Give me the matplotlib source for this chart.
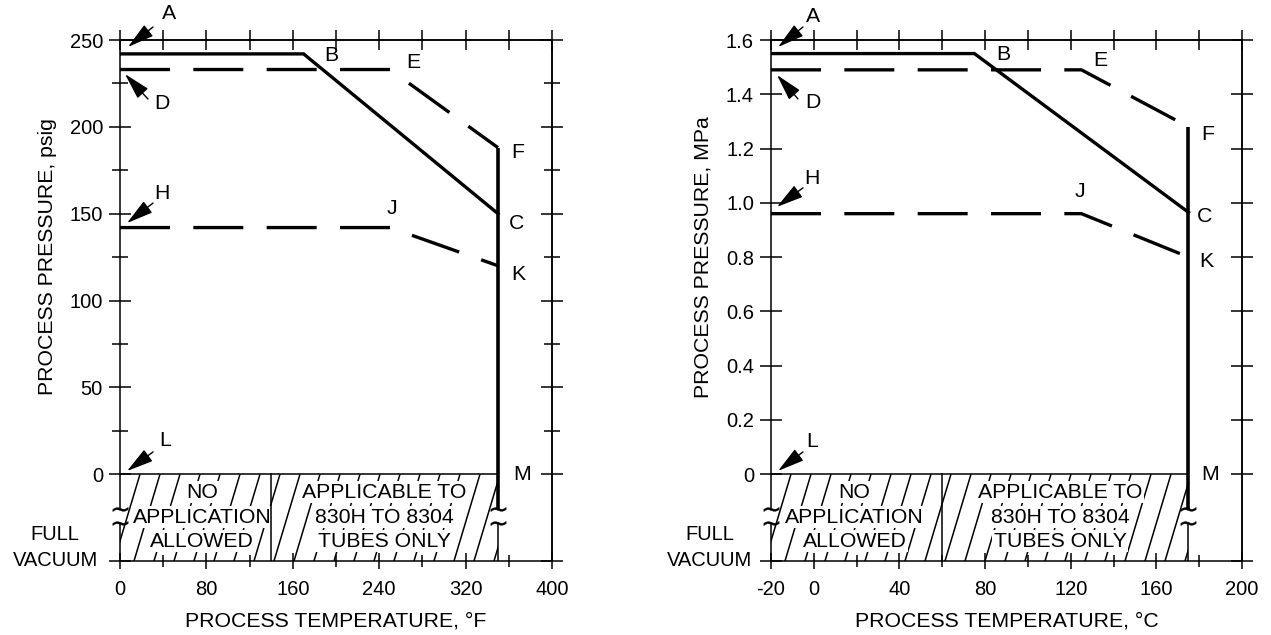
import numpy as np
import matplotlib.pyplot as plt
import matplotlib.transforms as mtransforms
from matplotlib.collections import LineCollection
from matplotlib.patches import Rectangle

plt.rcParams['font.family'] = ['Liberation Sans', 'DejaVu Sans']
plt.rcParams['font.size'] = 15.3
plt.rcParams['xtick.labelsize'] = 14.5
plt.rcParams['ytick.labelsize'] = 14.5
plt.rcParams['axes.linewidth'] = 1.1

# ---- chart 1: deg F / psig ----
f_abc_x = [0, 170, 350]
f_abc_y = [242, 242, 150]
f_def_x = [0, 250, 350]
f_def_y = [233, 233, 188]
f_hjk_x = [0, 250, 350]
f_hjk_y = [142, 142, 120]
f_xticks = [0, 80, 160, 240, 320, 400]
f_yticks = [0, 50, 100, 150, 200, 250]
f_vacuum = -50
f_divide = 140

# ---- chart 2: deg C / MPa ----
c_abc_x = [-20, 75, 175]
c_abc_y = [1.55, 1.55, 0.965]
c_def_x = [-20, 125, 175]
c_def_y = [1.49, 1.49, 1.28]
c_hjk_x = [-20, 125, 175]
c_hjk_y = [0.96, 0.96, 0.80]
c_xticks = [-20, 0, 40, 80, 120, 160, 200]
c_yticks = [0, 0.2, 0.4, 0.6, 0.8, 1.0, 1.2, 1.4, 1.6]
c_vacuum = -0.32
c_divide = 60

LW = 2.4
DASH = (15, 7)
TW = 1.1

fig = plt.figure(figsize=(12.71, 6.35), dpi=100)
axL = fig.add_axes([120/1271, 1-561/635, 432/1271, 521/635])
axR = fig.add_axes([771/1271, 1-561/635, 471/1271, 521/635])


def hatch(ax, x0, x1, y0, y1, step_px=20, slant_px=26):
    w_px = ax.get_position().width * fig.get_figwidth() * fig.dpi
    lo, hi = ax.get_xlim()
    upp = (hi - lo) / w_px
    step, slant = step_px * upp, slant_px * upp
    segs = [[(s, y0), (s + slant, y1)] for s in np.arange(x0 - slant, x1, step)]
    lc = LineCollection(segs, colors='k', linewidths=1.1, zorder=1)
    ax.add_collection(lc)
    lc.set_clip_path(Rectangle((x0, y0), x1 - x0, y1 - y0, transform=ax.transData))


def panel(ax, abc_x, abc_y, def_x, def_y, hjk_x, hjk_y, xlim, ylim, brk, divide, box_x):
    ax.set_xlim(xlim)
    ax.set_ylim(ylim)
    x0, tmax = xlim[0], def_x[-1]
    ax.plot(abc_x, abc_y, color='k', lw=LW, solid_joinstyle='miter', zorder=5)
    ax.plot(def_x, def_y, color='k', lw=LW, dashes=DASH, zorder=5)
    ax.plot(hjk_x, hjk_y, color='k', lw=LW, dashes=DASH, zorder=5)
    # temperature limit line with break
    ax.plot([tmax, tmax], [def_y[-1], brk[1]], color='k', lw=2.6,
            solid_capstyle='butt', zorder=5)
    ax.plot([tmax, tmax], [brk[0], ylim[0]], color='k', lw=TW, zorder=5)
    ax.spines['left'].set_bounds(brk[1], ylim[1])
    ax.plot([x0, x0], [ylim[0], brk[0]], color='k', lw=TW, clip_on=False, zorder=5)
    for xx in (x0, tmax):
        ax.plot([xx, xx], [brk[1], brk[0]], ls='none', marker='$\\sim$', ms=11,
                mew=0.3, color='k', clip_on=False, zorder=6)
    # vacuum region
    ax.plot([x0, tmax], [0, 0], color='k', lw=TW, zorder=4)
    ax.plot([divide, divide], [ylim[0], 0], color='k', lw=TW, zorder=4)
    hatch(ax, x0, tmax, ylim[0], 0)
    dy = (ylim[1] - ylim[0]) / 521
    box = dict(boxstyle='square,pad=0.08', fc='white', ec='none')
    rows = [-18, -43, -67]
    for bx, lines in zip(box_x, [['NO', 'APPLICATION', 'ALLOWED'],
                                  ['APPLICABLE TO', '830H TO 8304', 'TUBES ONLY']]):
        for r, t in zip(rows, lines):
            ax.text(bx, r * dy, t, ha='center', va='center', bbox=box, zorder=3)


panel(axL, f_abc_x, f_abc_y, f_def_x, f_def_y, f_hjk_x, f_hjk_y,
      (0, 400), (f_vacuum, 250), (-28, -20), f_divide, (76, 245))
panel(axR, c_abc_x, c_abc_y, c_def_x, c_def_y, c_hjk_x, c_hjk_y,
      (-20, 200), (c_vacuum, 1.6), (-0.18, -0.13), c_divide, (19, 115))


def ticks(ax, xmaj, xmin_, xtop, ymaj, ylabels, ymin_, yright, yright_minor):
    ax.set_xticks(xmaj, [str(v) for v in xmaj])
    ax.set_xticks(xmin_, minor=True)
    ax.set_yticks(ymaj, ylabels)
    ax.set_yticks(ymin_, minor=True)
    ax.tick_params(axis='x', which='major', direction='inout', length=11.5, width=TW, pad=8)
    ax.tick_params(axis='x', which='minor', direction='inout', length=8, width=TW)
    ax.tick_params(axis='y', which='major', direction='inout', length=16.5, width=TW, pad=4)
    ax.tick_params(axis='y', which='minor', direction='inout', length=11, width=TW)
    top = ax.secondary_xaxis('top')
    top.set_xticks(xtop)
    top.tick_params(direction='inout', length=15, width=TW, labeltop=False)
    right = ax.secondary_yaxis('right')
    right.set_yticks(yright)
    right.set_yticks(yright_minor, minor=True)
    right.tick_params(which='major', direction='inout', length=16, width=TW, labelright=False)
    right.tick_params(which='minor', direction='inout', length=11.5, width=TW, labelright=False)


ticks(axL, f_xticks, [40, 120, 200, 280, 360], np.arange(0, 401, 40),
      [f_vacuum] + f_yticks, [''] + [str(v) for v in f_yticks],
      [25, 75, 125, 175, 225], [f_vacuum] + f_yticks, [25, 75, 125, 175, 225])
ticks(axR, c_xticks, [20, 60, 100, 140, 180], np.arange(-20, 201, 20),
      [c_vacuum] + c_yticks, [''] + ['0' if v == 0 else f'{v:.1f}' for v in c_yticks],
      [], [c_vacuum] + c_yticks, [])

axL.set_xlabel('PROCESS TEMPERATURE, °F')
axR.set_xlabel('PROCESS TEMPERATURE, °C')
axL.set_ylabel('PROCESS PRESSURE, psig')
axR.set_ylabel('PROCESS PRESSURE, MPa')
axL.xaxis.set_label_coords(0.5, -0.096)
axR.xaxis.set_label_coords(0.5, -0.096)
axL.yaxis.set_label_coords(-0.146, 0.5835)
axR.yaxis.set_label_coords(-0.125, 0.5835)

# full vacuum labels
for ax, xf, full_y in ((axL, -0.150, -35), (axR, -0.1295, -0.224)):
    tr = mtransforms.blended_transform_factory(ax.transAxes, ax.transData)
    ax.text(xf, ax.get_ylim()[0], 'VACUUM', transform=tr, ha='center', va='center', fontsize=14.5)
    ax.text(xf, full_y, 'FULL', transform=tr, ha='center', va='center', fontsize=14.5)

# point letters
f_letters = {'B': (196, 241), 'E': (272, 237), 'F': (368.5, 185.5), 'C': (367.5, 144.5),
             'K': (368.5, 114.7), 'J': (252, 152.7), 'M': (372, 0)}
c_letters = {'B': (88.4, 1.548), 'E': (134, 1.526), 'F': (184, 1.25), 'C': (182.7, 0.948),
             'K': (183.2, 0.782), 'J': (124.3, 1.04), 'M': (185, 0)}
for ax, d in ((axL, f_letters), (axR, c_letters)):
    for k, (x, y) in d.items():
        ax.text(x, y, k, ha='center', va='center', zorder=7)

# arrow callouts: letter, text pos, tail, head
f_arrows = [('A', (45.4, 265), (30.6, 257.5), (7.4, 246)),
            ('D', (38.9, 213.7), (25.9, 216), (4.6, 230.4)),
            ('H', (38.9, 161.9), (30.6, 156.1), (6.5, 144.6)),
            ('L', (41.7, 19.1), (30.6, 12.8), (6.5, 1.8))]
c_arrows = [('A', (-0.4, 1.685), (-5.05, 1.648), (-16.7, 1.574)),
            ('D', (-0.4, 1.368), (-7.4, 1.383), (-17.2, 1.471)),
            ('H', (-0.85, 1.088), (-5.05, 1.055), (-17.2, 0.985)),
            ('L', (-0.85, 0.122), (-5.05, 0.082), (-16.7, 0.012))]
for ax, arr in ((axL, f_arrows), (axR, c_arrows)):
    for k, txt, tail, head in arr:
        ax.text(txt[0], txt[1], k, ha='center', va='center', zorder=7, clip_on=False)
        ax.annotate('', xy=head, xytext=tail, annotation_clip=False,
                    arrowprops=dict(arrowstyle='-|>,head_length=0.75,head_width=0.2',
                                    mutation_scale=22, color='k', lw=1.0,
                                    shrinkA=0, shrinkB=0))

fig.savefig('out.png', dpi=100)
